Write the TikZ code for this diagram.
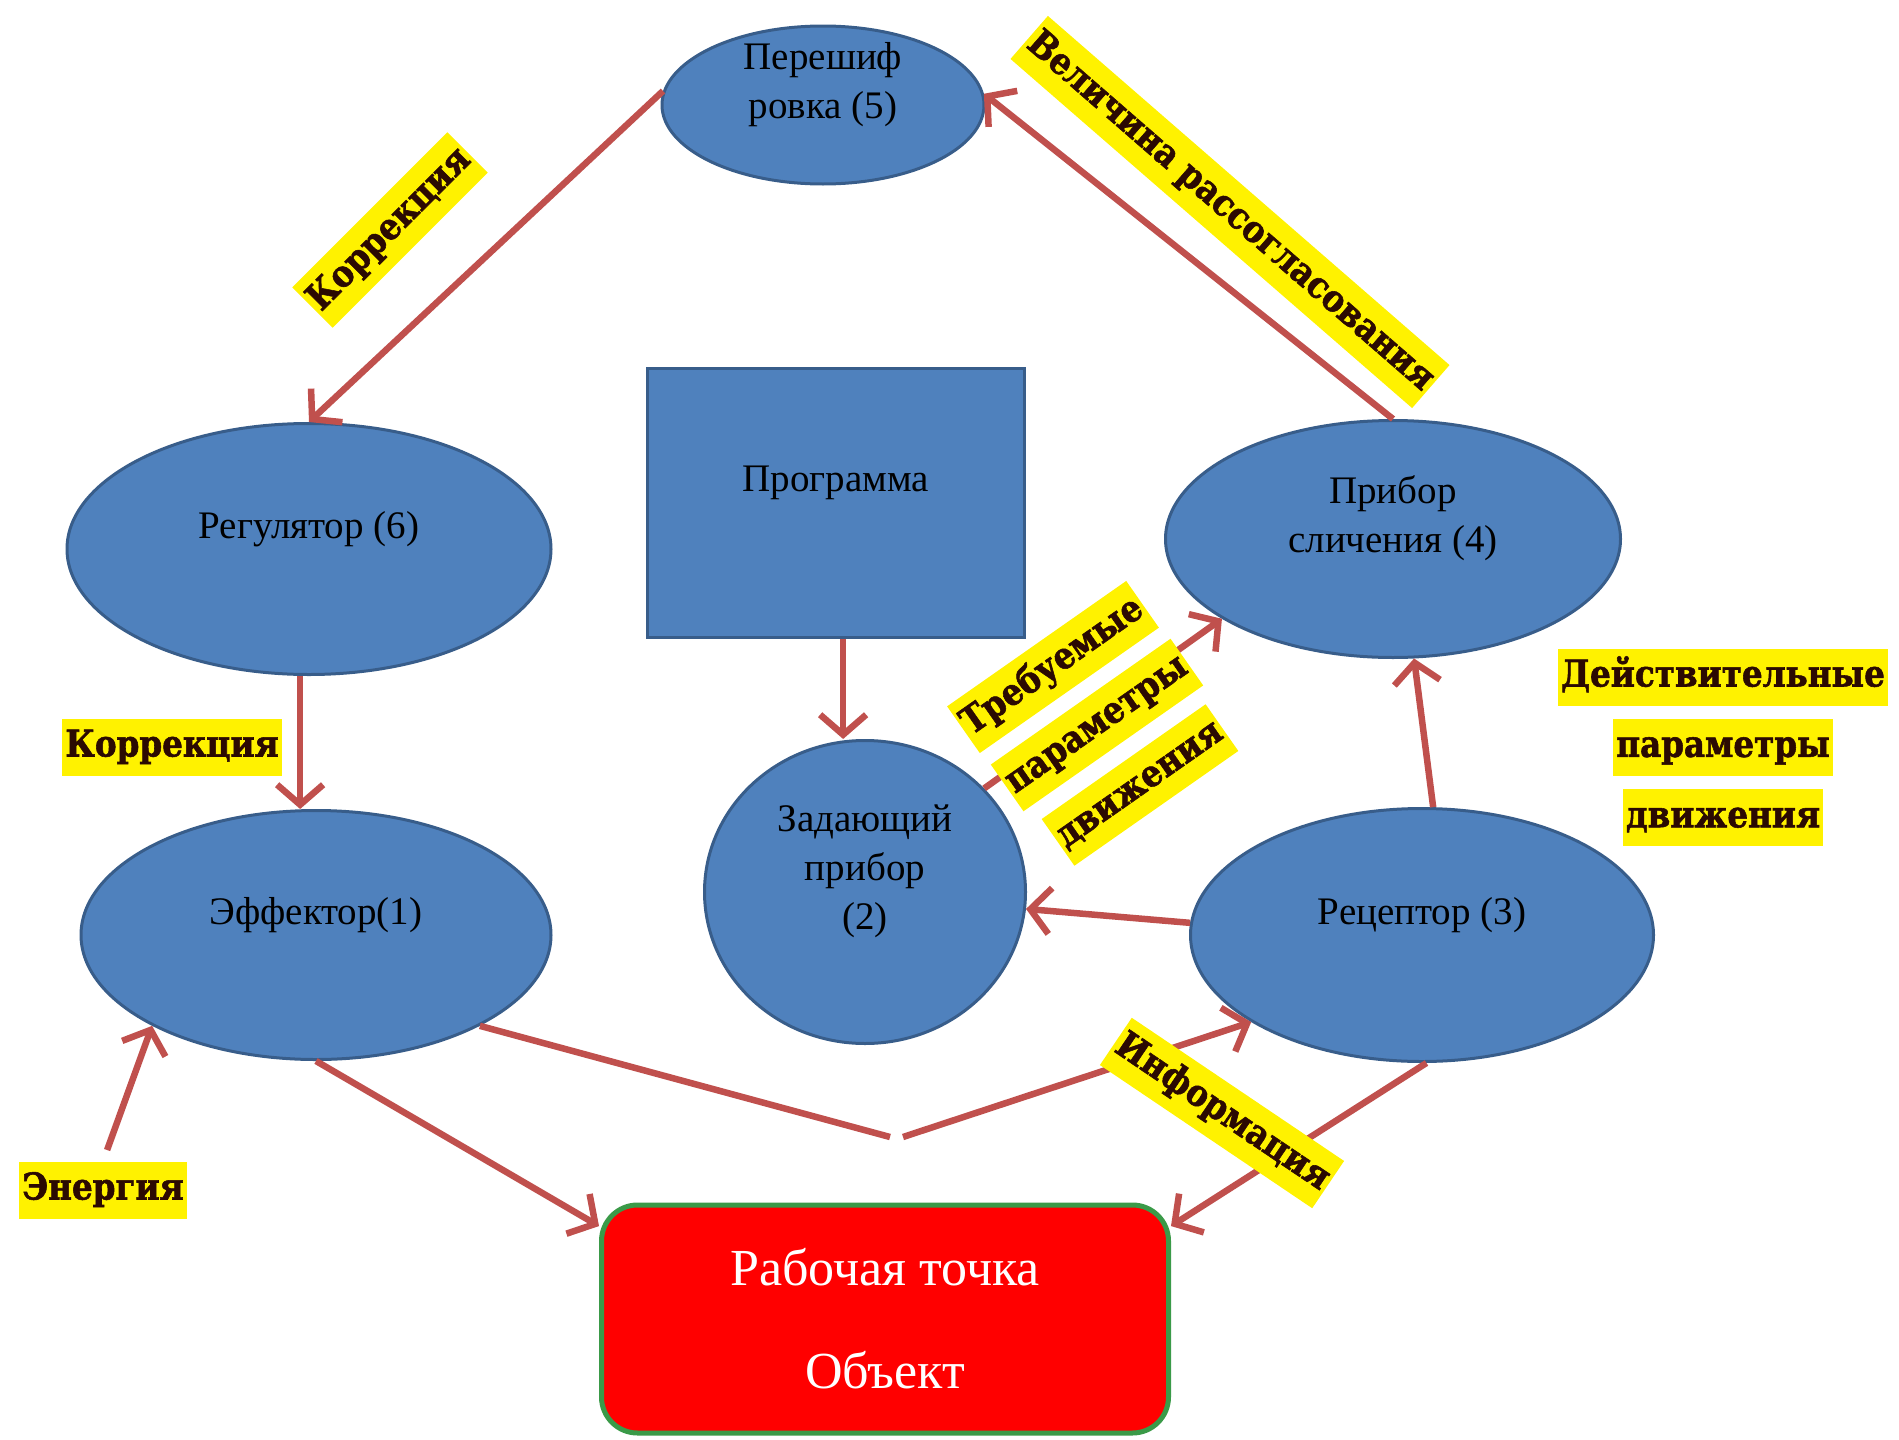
\documentclass[tikz,border=0pt]{standalone}
\usepackage{fontspec}
\setmainfont{Liberation Serif}
\newfontfamily\lblfont{DejaVu Serif}[BoldFeatures={FakeBold=1.5,FakeStretch=0.88}]
\usetikzlibrary{shapes.geometric,arrows.meta,positioning}
\definecolor{nodeblue}{HTML}{4F81BD}
\definecolor{nodeedge}{HTML}{385D8A}
\definecolor{arrred}{HTML}{C0504D}
\definecolor{lbltext}{HTML}{2B0A02}
\definecolor{objgreen}{HTML}{3A9A48}
\tikzset{
  blob/.style={ellipse,fill=nodeblue,draw=nodeedge,line width=3pt,inner sep=-30pt,align=center,font=\fontsize{39}{49}\selectfont},
  box/.style={rectangle,fill=nodeblue,draw=nodeedge,line width=3pt,align=center,font=\fontsize{39}{49}\selectfont},
  arrline/.style={draw=arrred,line width=6.5pt},
  arr/.style={arrline,-{Straight Barb[length=20pt,width=46pt]}},
  lbl/.style={fill=yellow,text=lbltext,inner xsep=3pt,inner ysep=10pt,text height=28pt,text depth=9pt,font=\lblfont\bfseries\fontsize{37}{44}\selectfont},
}
\begin{document}
\begin{tikzpicture}[x=1pt,y=-1pt]
    \useasboundingbox (0,0) rectangle (1899,1440);
    \node[blob,minimum width=322pt,minimum height=158pt] (pere) at (823,105) {Перешиф\\ровка (5)\\\mbox{}};
    \node[blob,minimum width=484pt,minimum height=251pt] (reg) at (309,549) {Регулятор (6)\\\mbox{}};
    \node[box,minimum width=377pt,minimum height=269pt] (prog) at (836,503) {Программа\\\mbox{}};
    \node[blob,minimum width=455pt,minimum height=237pt] (slich) at (1393,539) {Прибор\\сличения (4)\\\mbox{}};
    \node[blob,minimum width=470pt,minimum height=249pt] (eff) at (316,935) {Эффектор(1)\\\mbox{}};
    \node[blob,minimum width=321pt,minimum height=303pt] (zad) at (865,892) {Задающий\\прибор\\(2)\\\mbox{}};
    \node[blob,minimum width=463pt,minimum height=253pt] (rec) at (1422,935) {Рецептор (3)\\\mbox{}};
    \node[rectangle,rounded corners=36pt,fill=red,draw=objgreen,line width=5pt,text=white,align=center,
          minimum width=567pt,minimum height=228pt,font=\fontsize{52}{60}\selectfont] (obj) at (885,1319) {Рабочая точка\\[43pt]Объект};
    \coordinate (vl) at (890,1137);
    \coordinate (vr) at (903,1137);

    \foreach \a/\b in {pere.175/reg.north, slich.north/pere.4, rec.177/zad.-6, rec.85/slich.-80,
                       zad.41/slich.205, eff.south/obj.162, rec.-88/obj.18, vr/rec.207} {
        \draw[arr] (\a) -- (\b);
    }
    \draw[arr] (reg.-94) -- (reg.-94 |- eff.north);
    \draw[arr] (prog.-87) -- (prog.-87 |- zad.north);
    \draw[arrline] (eff.-29) -- (vl);

    \node[lbl,rotate=45] (korr1) at (390,230) {Коррекция};
    \node[lbl,rotate=-41] (velich) at (1230,212) {Величина рассогласования};
    \node[lbl] (korr2) at (172,747) {Коррекция};
    \node[lbl,rotate=35] (treb1) at (1053,667) {Требуемые};
    \node[lbl,rotate=35] (treb2) at (1097,725) {параметры};
    \node[lbl,rotate=35] (treb3) at (1140,785) {движения};
    \node[lbl] (deyst1) at (1723,677) {Действительные};
    \node[lbl,below=13pt of deyst1] (deyst2) {параметры};
    \node[lbl,below=13pt of deyst2] (deyst3) {движения};
    \node[lbl,rotate=-34] (inform) at (1222,1113) {Информация};
    \node[lbl] (energ) at (103,1190) {Энергия};
    \draw[arr,shorten <=12pt] (energ.north) -- (eff.209);
\end{tikzpicture}
\end{document}
